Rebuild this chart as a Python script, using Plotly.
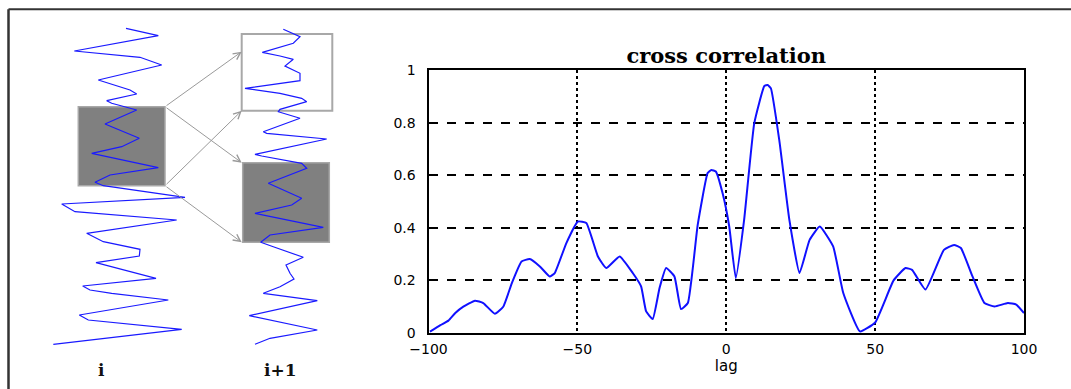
import plotly.graph_objects as go

# ---- cross-correlation data ----
lag = [-99.5, -96, -93.3, -91, -88.3, -84.4, -81.6, -77.7, -74.9, -72, -68.75, -66,
       -62.6, -59.3, -57.6, -53.7, -49.8, -47, -43.1, -40.3, -35.8, -31.4, -28.6,
       -26.9, -24.7, -22.4, -20.2, -17.4, -15.2, -12.9, -9.6, -6.25, -5.0, -3.5,
       -1.2, 1.0, 3.2, 6.0, 9.4, 12.8, 13.9, 15.0, 17.8, 21.2, 24.6, 28.0, 31.4,
       35.9, 39.3, 44.9, 50, 56.2, 60.2, 62.4, 66.9, 73.1, 76.5, 78.8, 82.7, 86.7,
       90.1, 94.6, 97.4, 100]
corr = [0.005, 0.03, 0.047, 0.076, 0.10, 0.123, 0.114, 0.073, 0.10, 0.19, 0.272,
        0.281, 0.253, 0.215, 0.228, 0.342, 0.424, 0.418, 0.291, 0.247, 0.291, 0.228,
        0.177, 0.082, 0.053, 0.171, 0.247, 0.215, 0.091, 0.114, 0.41, 0.608, 0.62,
        0.614, 0.53, 0.405, 0.209, 0.43, 0.797, 0.939, 0.943, 0.93, 0.734, 0.43,
        0.228, 0.354, 0.405, 0.329, 0.152, 0.006, 0.04, 0.2, 0.247, 0.24, 0.165,
        0.316, 0.335, 0.323, 0.215, 0.114, 0.101, 0.114, 0.108, 0.076]

x_ticks = [-100, -50, 0, 50, 100]
y_ticks = [0, 0.2, 0.4, 0.6, 0.8, 1]
y_ticktext = ["0", "0.2", "0.4", "0.6", "0.8", "1"]

# ---- schematic signals (value, depth) in diagram units ----
sig_i_val = [126.0, 158.3, 74.3, 140.0, 161.7, 98.3, 130.0, 136.7, 106.7, 111.7, 136.7,
             105.0, 139.3, 121.7, 91.7, 158.3, 110, 95.0, 103.3, 185, 61.7, 75, 176.7,
             86.7, 103.3, 140, 139.3, 96, 156, 82.7, 90, 111.7, 168.3, 79.3, 88.3, 181.7,
             53.3]
sig_i_depth = [28.3, 35.7, 51.0, 57.3, 65.0, 80.0, 90.0, 94.0, 100.7, 103.3, 110.0,
               124.0, 138.3, 146.7, 153.3, 167.7, 175, 182.3, 185.7, 197.3, 204, 211.7,
               220, 233.3, 241.7, 249.3, 256, 262.7, 278.3, 286, 290, 293.3, 300, 315,
               320, 329.3, 344.3]
sig_j_val = [283.3, 300, 293.3, 262.3, 280, 293.3, 285, 300, 300, 245, 280, 301.7, 306.7,
             280, 278.3, 300, 263.3, 266.7, 326.7, 255, 261.7, 301.7, 306.7, 285, 268.3,
             301.7, 291.7, 255, 323.3, 270, 260.7, 273.3, 303.3, 286, 290, 294, 280,
             263.3, 317.3, 249.3, 317.3, 270, 255]
sig_j_depth = [29.3, 36.7, 43.3, 52.3, 56, 59.3, 66, 73.3, 80.7, 88.3, 93.3, 98.3, 101.7,
               109.3, 111.7, 118.3, 131.7, 133.3, 139, 154.3, 156, 163.3, 168.3, 176.7,
               183.3, 198.3, 205, 213.3, 227.3, 235, 242.3, 246.7, 257.3, 265, 273.3, 279,
               286.7, 293.3, 300.7, 315.7, 330, 338.3, 344.3]
labels = ["i", "i+1"]

W, H = 1071, 389
# plot-area pixel box of the correlation chart
PL, PR, PT, PB = 428.5, 1024, 70, 333

# rectangles of the schematic (x0, y0, x1, y1)
rect_src = (78.3, 106.7, 165, 185.7)
rect_a = (241.7, 34, 332.3, 110.7)
rect_b = (242.7, 162.7, 329.3, 242.3)

fig = go.Figure()

fig.add_trace(go.Scatter(x=lag, y=corr, mode="lines",
                         line=dict(color="#1010ff", width=2, shape="spline", smoothing=0.4),
                         xaxis="x", yaxis="y", showlegend=False, hoverinfo="skip"))

fig.add_trace(go.Scatter(x=sig_i_val, y=sig_i_depth, mode="lines",
                         line=dict(color="#1a1aff", width=1.2),
                         xaxis="x2", yaxis="y2", showlegend=False, hoverinfo="skip"))
fig.add_trace(go.Scatter(x=sig_j_val, y=sig_j_depth, mode="lines",
                         line=dict(color="#1a1aff", width=1.2),
                         xaxis="x2", yaxis="y2", showlegend=False, hoverinfo="skip"))

shapes = []
for r, fill in [(rect_src, "#808080"), (rect_b, "#808080"), (rect_a, "rgba(0,0,0,0)")]:
    shapes.append(dict(type="rect", xref="x2", yref="y2", x0=r[0], y0=r[1], x1=r[2], y1=r[3],
                       fillcolor=fill, line=dict(color="#a8a8a8", width=2 if fill.startswith("rgba") else 1.5),
                       layer="below"))
# outer frame (top and left edges)
shapes.append(dict(type="line", xref="x2", yref="y2", x0=8.5, y0=9.3, x1=W, y1=9.3,
                   line=dict(color="#333333", width=2)))
shapes.append(dict(type="line", xref="x2", yref="y2", x0=8.5, y0=9.3, x1=8.5, y1=H,
                   line=dict(color="#333333", width=2.5)))

annotations = []
arrows = [
    ((rect_src[2], rect_src[1]), (rect_a[0], rect_a[1] + 0.23 * (rect_a[3] - rect_a[1]))),
    ((rect_src[2], rect_src[1]), (rect_b[0] - 1, rect_b[1])),
    ((rect_src[2], rect_src[3]), (rect_a[0], rect_a[3])),
    ((rect_src[2], rect_src[3]), (rect_b[0] - 1, rect_b[3])),
]
for (tx, ty), (hx, hy) in arrows:
    annotations.append(dict(x=hx, y=hy, ax=tx, ay=ty, xref="x2", yref="y2", axref="x2", ayref="y2",
                            text="", showarrow=True, arrowhead=5, arrowsize=1.4, arrowwidth=1,
                            arrowcolor="#9a9a9a", standoff=0, startstandoff=0))
for txt, xc in zip(labels, [101, 280]):
    annotations.append(dict(x=xc, y=370, xref="x2", yref="y2", text="<b>" + txt + "</b>",
                            showarrow=False, font=dict(family="DejaVu Serif", size=17, color="#111")))

fig.update_layout(
    template="none",
    width=W, height=H, margin=dict(l=0, r=0, t=0, b=0, pad=0, autoexpand=False),
    paper_bgcolor="white", plot_bgcolor="rgba(0,0,0,0)",
    title=dict(text="<b>cross correlation</b>", x=(PL + PR) / 2 / W, y=1 - 56 / H,
               xanchor="center", yanchor="middle", xref="paper", yref="paper", automargin=False,
               font=dict(family="DejaVu Serif", size=21, color="#000")),
    xaxis=dict(domain=[PL / W, PR / W], range=[-100, 100], tickvals=x_ticks,
               showgrid=True, gridcolor="#000", griddash="dot", gridwidth=1.5,
               showline=True, mirror=True, linecolor="#000", linewidth=1.5,
               zeroline=False, ticks="", anchor="y", automargin=False, ticklabelstandoff=2,
               tickfont=dict(family="DejaVu Sans", size=14, color="#000"),
               title=dict(text="lag", standoff=0,
                          font=dict(family="DejaVu Sans", size=15, color="#000"))),
    yaxis=dict(domain=[1 - PB / H, 1 - PT / H], range=[0, 1], tickvals=y_ticks,
               ticktext=y_ticktext,
               showgrid=True, gridcolor="#000", griddash="dash", gridwidth=1.5,
               showline=True, mirror=True, linecolor="#000", linewidth=2,
               zeroline=False, ticks="", anchor="x", ticklabelstandoff=8, automargin=False,
               tickfont=dict(family="DejaVu Sans", size=14, color="#000")),
    xaxis2=dict(domain=[0, 1], range=[0, W], visible=False, anchor="y2", fixedrange=True,
                automargin=False),
    yaxis2=dict(domain=[0, 1], range=[H, 0], visible=False, anchor="x2", fixedrange=True,
                automargin=False),
    shapes=shapes, annotations=annotations,
)

fig.write_html("out.html")
